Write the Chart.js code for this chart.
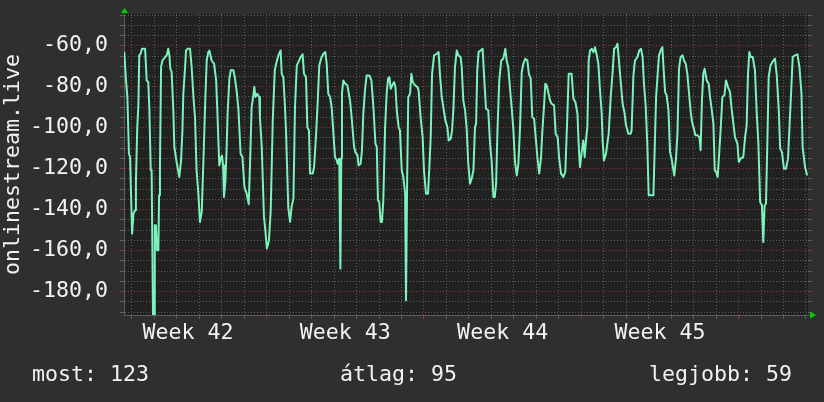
<!DOCTYPE html>
<html><head><meta charset="utf-8">
<script src="https://cdn.jsdelivr.net/npm/chart.js@4/dist/chart.umd.min.js"></script>
<style>
html,body{margin:0;padding:0;background:#2f2f2f;overflow:hidden}
#wrap{position:relative;width:824px;height:402px;background:#2f2f2f}
canvas{position:absolute;left:0;top:0}
.f{position:absolute;font-family:'DejaVu Sans Mono',monospace;font-size:21.6px;line-height:21px;color:#f2f2f2;white-space:pre}
</style></head><body>
<div id="wrap"><canvas id="c" width="824" height="402"></canvas>
<div class="f" id="f1" style="left:32px;top:363px"></div>
<div class="f" id="f2" style="left:340px;top:363px"></div>
<div class="f" id="f3" style="left:649px;top:363px"></div>
</div>
<script>
// ---- data (x = day, Monday of Week 42 = 0) ----
const days = [0.66,0.74,0.80,0.87,0.92,1.01,1.07,1.14,1.18,1.24,1.29,1.33,1.39,1.45,1.59,1.66,1.73,1.78,1.84,1.88,1.94,1.99,2.02,2.07,2.12,2.18,2.21,2.25,2.30,2.36,2.48,2.55,2.62,2.67,2.71,2.77,2.85,2.89,2.99,3.11,3.19,3.25,3.29,3.37,3.41,3.48,3.59,3.66,3.74,3.81,3.88,3.96,4.03,4.11,4.18,4.26,4.33,4.40,4.45,4.55,4.66,4.75,4.80,4.89,4.97,5.01,5.06,5.10,5.16,5.22,5.26,5.34,5.40,5.52,5.59,5.66,5.74,5.84,5.92,6.01,6.11,6.20,6.26,6.33,6.41,6.45,6.50,6.58,6.67,6.70,6.78,6.88,6.94,7.01,7.10,7.18,7.27,7.36,7.42,7.52,7.62,7.67,7.74,7.80,7.86,7.96,8.04,8.11,8.19,8.26,8.34,8.41,8.51,8.60,8.66,8.75,8.81,8.88,8.93,9.05,9.11,9.20,9.27,9.34,9.42,9.52,9.61,9.67,9.74,9.82,9.89,9.97,10.04,10.12,10.16,10.23,10.28,10.32,10.35,10.41,10.49,10.59,10.71,10.78,10.89,10.95,11.04,11.09,11.18,11.24,11.30,11.38,11.45,11.57,11.66,11.75,11.84,11.90,11.95,12.01,12.07,12.13,12.19,12.27,12.34,12.40,12.46,12.52,12.59,12.67,12.73,12.79,12.87,12.93,13.01,13.08,13.16,13.20,13.25,13.30,13.38,13.44,13.50,13.60,13.71,13.76,13.85,13.94,14.00,14.09,14.18,14.24,14.30,14.36,14.45,14.57,14.65,14.71,14.79,14.86,14.95,15.04,15.10,15.19,15.25,15.31,15.38,15.46,15.53,15.63,15.68,15.75,15.83,15.90,15.97,16.05,16.12,16.20,16.27,16.32,16.37,16.43,16.52,16.61,16.67,16.76,16.86,16.94,17.01,17.09,17.15,17.21,17.27,17.35,17.44,17.53,17.62,17.68,17.75,17.83,17.90,17.98,18.05,18.13,18.20,18.27,18.35,18.42,18.51,18.60,18.67,18.75,18.82,18.90,18.99,19.06,19.13,19.21,19.27,19.34,19.40,19.46,19.53,19.61,19.68,19.79,19.86,19.95,20.01,20.10,20.20,20.29,20.38,20.44,20.57,20.65,20.74,20.83,20.88,20.94,21.02,21.09,21.15,21.21,21.27,21.33,21.39,21.46,21.54,21.61,21.69,21.76,21.83,21.91,21.95,22.01,22.10,22.16,22.22,22.31,22.40,22.46,22.55,22.61,22.67,22.75,22.84,22.93,22.99,23.10,23.20,23.24,23.32,23.39,23.50,23.58,23.66,23.73,23.79,23.87,23.94,24.00,24.21,24.27,24.33,24.40,24.46,24.53,24.61,24.65,24.73,24.80,24.88,24.95,25.02,25.10,25.14,25.22,25.28,25.35,25.42,25.51,25.57,25.65,25.72,25.81,25.87,25.93,25.99,26.08,26.17,26.26,26.31,26.37,26.43,26.49,26.58,26.67,26.73,26.80,26.88,26.94,27.00,27.07,27.15,27.20,27.28,27.37,27.44,27.53,27.62,27.69,27.77,27.84,27.95,28.01,28.09,28.21,28.29,28.36,28.42,28.48,28.54,28.63,28.73,28.81,28.88,28.96,29.04,29.10,29.16,29.22,29.28,29.34,29.42,29.50,29.62,29.70,29.79,29.85,29.93,30.02,30.11,30.20,30.28,30.35,30.41,30.51,30.62,30.71,30.80,30.85,30.96,31.05];
const values = [-63,-77,-85,-112.7,-114.3,-151.7,-142,-140.3,-126.5,-99.7,-89,-64.7,-63.9,-61.5,-61.5,-77,-77.7,-91.5,-120.8,-120.8,-191.5,-191.5,-147.6,-147.6,-159.8,-159.8,-133,-119,-70.4,-67.2,-65.5,-64.7,-61.5,-64.7,-71.2,-72.8,-93,-109.4,-116.7,-124,-115.9,-101.3,-83.4,-70.4,-62.3,-61.5,-61.5,-70.4,-85,-94.8,-120.8,-132.2,-146,-141.1,-117.6,-89,-67.2,-63.1,-62.3,-67.2,-68.8,-76.9,-90.7,-118.4,-114.3,-113.5,-118.4,-133.8,-126.5,-109.4,-93.2,-76.1,-72,-72,-76.1,-81.8,-90.7,-112.7,-114.3,-129,-132.2,-137.3,-117.6,-89.9,-84,-80,-85,-83.4,-85,-94.8,-109.4,-143.6,-150,-159,-155,-140.3,-96.5,-72,-68.8,-64.7,-62.3,-73.7,-75.3,-86.7,-101.3,-138.7,-146,-138.5,-134.6,-89.9,-69.6,-68,-65.5,-64.2,-73.7,-75.3,-99.7,-101.3,-122.4,-122.4,-119.2,-103,-87.5,-69.6,-66.3,-63.9,-63.1,-68.8,-83.4,-85,-89.9,-103,-114.3,-115.9,-117.6,-115.1,-168.8,-115,-83.4,-77,-78.5,-79.3,-86.7,-94.8,-109.4,-111.9,-113.5,-118.4,-117.6,-111,-93.2,-81,-74.5,-74.5,-76.9,-89.9,-107.8,-109.4,-135.4,-136.3,-146,-146,-135.4,-99.7,-83.4,-76.1,-75.3,-81,-79.3,-77.7,-80.2,-91.5,-99.7,-101.3,-120.8,-124,-132.2,-184.2,-125.7,-85,-83.4,-73.7,-77.7,-79.3,-80.2,-81.8,-94.8,-104.6,-120.8,-132.2,-132.2,-119.2,-104.6,-73.7,-64.7,-63.9,-63.1,-73.7,-85,-89.9,-96.4,-99.7,-106.2,-105.4,-101.3,-90.7,-70.4,-62.3,-64.7,-65.5,-70.4,-86.7,-91.5,-100.5,-117.6,-127.3,-124.9,-120.8,-99.7,-98,-72,-63.1,-62.3,-61.5,-73.7,-90.7,-91.5,-107.8,-116,-133.8,-133.8,-127.3,-101.3,-76.9,-67.2,-66.3,-61.5,-67.2,-70.4,-81,-89.9,-101.3,-116.7,-123.3,-117.6,-101.3,-72.8,-68.8,-66.3,-67.2,-73.7,-76.1,-94.8,-95.6,-107,-116,-122.4,-114.3,-101.3,-89.9,-78.5,-79.3,-82.6,-86.7,-88.3,-89.1,-102.9,-104.6,-114.3,-122.4,-124,-121.6,-94,-73.7,-73.7,-85.9,-87.5,-93.2,-107,-119.2,-111.9,-106.2,-114.3,-106.2,-99.7,-67.2,-62.3,-61.5,-63.1,-60.7,-64.7,-68.8,-81,-93.2,-106.2,-116,-112.7,-107.8,-102.9,-85,-72,-61.5,-60.7,-59,-66.3,-76.9,-88.3,-93.2,-98.8,-102.9,-102.9,-101.3,-74.5,-67.2,-65.5,-62.3,-61.5,-65.5,-78.5,-89.9,-108.6,-133,-133,-109.4,-85,-73.7,-64.7,-62.3,-60.7,-68.8,-82.6,-84.2,-91.5,-111.9,-115.1,-120.8,-123.3,-114.3,-102.9,-71.2,-65.5,-64.7,-67.2,-68.8,-73.7,-85,-92.4,-97.2,-99.7,-103.7,-103.7,-104.6,-111,-86.7,-73.7,-71.2,-76.9,-78.5,-85,-90.7,-98,-120.8,-121.6,-124,-110.2,-101.3,-85,-84.2,-76.9,-80.2,-82.6,-90.7,-98,-104.6,-107.8,-116.7,-115.1,-114.3,-104.6,-98.8,-73.7,-63.1,-65.5,-65.5,-72,-93.2,-107,-136.3,-137.9,-155.8,-137.9,-137.1,-107.8,-75.3,-69.6,-68,-66.3,-74.5,-91.5,-110.2,-111.9,-120,-120,-115.1,-96.4,-80.2,-65.5,-64.7,-64.2,-70.4,-83.4,-109.4,-119.2,-123.3];
const weekNumbers = [42, 43, 44, 45];
const xMin = 0.65, xMax = 31.09;
const yMin = -191.4, yMax = -44.5;
const yMajorTicks = [-180, -160, -140, -120, -100, -80, -60];
const seriesName = 'onlinestream.live';
const footerLabels = ['most', 'átlag', 'legjobb'];
const footerValues = [123, 95, 59];

const FONT = "'DejaVu Sans Mono', monospace";
const FS = 21.6;
const RED = 'rgba(150,55,55,0.95)';
const GRAY = 'rgba(100,100,100,0.9)';
const TXT = '#f2f2f2';

document.getElementById('f1').textContent = footerLabels[0] + ': ' + footerValues[0];
document.getElementById('f2').textContent = footerLabels[1] + ': ' + footerValues[1];
document.getElementById('f3').textContent = footerLabels[2] + ': ' + footerValues[2];

const points = days.map((d, i) => ({x: d, y: values[i]}));
const weekLabelPos = weekNumbers.map((w, i) => i * 7 + 3.5);

function xTickList() {
  const t = [];
  for (let d = Math.ceil(xMin); d <= xMax; d++) t.push(d);
  weekLabelPos.forEach(p => t.push(p));
  t.sort((a, b) => a - b);
  return t.map(v => ({value: v}));
}
function yTickList() {
  const t = [];
  for (let v = Math.ceil(yMin / 5) * 5; v <= yMax; v += 5) t.push({value: v});
  return t;
}
function noPad(s) { s.paddingTop = 0; s.paddingBottom = 0; s.paddingLeft = 0; s.paddingRight = 0; }

const deco = {
  id: 'deco',
  beforeDraw(chart) {
    const {ctx, chartArea: a} = chart;
    ctx.save();
    ctx.fillStyle = '#2f2f2f';
    ctx.fillRect(0, 0, chart.width, chart.height);
    ctx.fillStyle = '#212121';
    ctx.fillRect(a.left, a.top, a.right - a.left, a.bottom - a.top);
    ctx.restore();
  },
  afterDraw(chart) {
    const {ctx, chartArea: a} = chart;
    ctx.save();
    ctx.fillStyle = '#00d000';
    ctx.beginPath();
    ctx.moveTo(a.left - 3, a.top - 1);
    ctx.lineTo(a.left + 4, a.top - 1);
    ctx.lineTo(a.left + 0.5, a.top - 6);
    ctx.closePath(); ctx.fill();
    ctx.beginPath();
    ctx.moveTo(a.right + 2, a.bottom - 3.5);
    ctx.lineTo(a.right + 2, a.bottom + 3.5);
    ctx.lineTo(a.right + 8, a.bottom);
    ctx.closePath(); ctx.fill();
    ctx.restore();
  }
};

new Chart(document.getElementById('c'), {
  type: 'line',
  data: { datasets: [{
    label: seriesName,
    data: points,
    borderColor: '#7cf2bc',
    borderWidth: 2,
    pointRadius: 0,
    fill: false,
    tension: 0,
    borderJoinStyle: 'round'
  }]},
  options: {
    responsive: false,
    animation: false,
    devicePixelRatio: 1,
    events: [],
    layout: { padding: { left: 0, right: 12, top: 14, bottom: 47 } },
    plugins: { legend: { display: false }, tooltip: { enabled: false } },
    scales: {
      x: {
        type: 'linear', min: xMin, max: xMax,
        afterBuildTicks: s => { s.ticks = xTickList(); },
        afterFit: s => { s.height = 40; noPad(s); },
        grid: {
          color: c => { const v = c.tick ? c.tick.value : null; if (v === null || !Number.isInteger(v)) return 'rgba(0,0,0,0)'; return v % 7 === 0 ? RED : GRAY; },
          tickLength: 4, lineWidth: 1
        },
        border: { display: true, color: '#5c5c5c', dash: [1, 2] },
        ticks: {
          autoSkip: false, maxRotation: 0, minRotation: 0, padding: 1,
          color: TXT, font: { family: FONT, size: FS },
          callback: v => { const i = weekLabelPos.indexOf(v); return i >= 0 ? 'Week ' + weekNumbers[i] : ''; }
        }
      },
      y: {
        type: 'linear', min: yMin, max: yMax, position: 'left',
        afterBuildTicks: s => { s.ticks = yTickList(); },
        afterFit: s => { s.width = 124; noPad(s); },
        grid: {
          color: c => { const v = c.tick ? c.tick.value : null; if (v === null) return 'rgba(0,0,0,0)'; return yMajorTicks.includes(v) ? RED : GRAY; },
          tickLength: 4, lineWidth: 1
        },
        border: { display: true, color: '#5c5c5c', dash: [1, 2] },
        title: { display: true, text: seriesName, color: TXT, font: { family: FONT, size: FS }, padding: 0 },
        ticks: {
          autoSkip: false, padding: 12, color: TXT, font: { family: FONT, size: FS },
          callback: v => yMajorTicks.includes(v) ? v.toFixed(1).replace('.', ',') : ''
        }
      },
      y2: {
        type: 'linear', min: yMin, max: yMax, position: 'right',
        afterBuildTicks: s => { s.ticks = yTickList(); },
        afterFit: s => { s.width = 4; noPad(s); },
        grid: {
          drawOnChartArea: false,
          color: c => { const v = c.tick ? c.tick.value : null; if (v === null) return 'rgba(0,0,0,0)'; return yMajorTicks.includes(v) ? RED : GRAY; },
          tickLength: 4
        },
        border: { display: false },
        ticks: { display: false }
      }
    }
  },
  plugins: [deco]
});
</script>
</body></html>
